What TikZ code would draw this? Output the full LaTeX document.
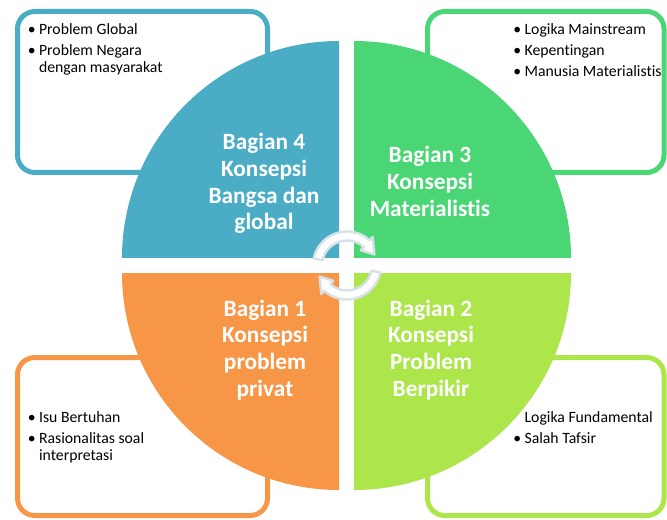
\documentclass[tikz,border=0pt]{standalone}
\usepackage{fontspec}
\setmainfont{Carlito}[Ligatures=NoCommon]
\usetikzlibrary{calc}

\definecolor{bluefour}{RGB}{75,172,198}
\definecolor{greenthree}{RGB}{74,214,116}
\definecolor{limetwo}{RGB}{172,230,75}
\definecolor{orangeone}{RGB}{247,150,70}
\definecolor{arrowline}{RGB}{214,226,234}

\tikzstyle{listbox} = [rounded corners=13pt, line width=3.75pt]
\tikzstyle{quadtext} = [text=white, inner sep=0pt, anchor=base, font=\bfseries\fontsize{17.5}{20}\selectfont]
\tikzstyle{listtext} = [text=black, inner sep=0pt, anchor=base west, font=\fontsize{11.8}{12.75}\selectfont]
\tikzstyle{turn} = [fill=white, draw=arrowline, line width=1.8pt, line join=round]

\newcommand{\blt}{\makebox[8.5pt][l]{\textbullet}}

\begin{document}
\begin{tikzpicture}[x=0.75pt, y=-0.75pt]
    \useasboundingbox (0,0) rectangle (667,520);

    % boxes behind the circle
    \draw [listbox, draw=bluefour] (17.5,11.5) rectangle (267.5,172.5);
    \draw [listbox, draw=greenthree] (427.5,11.5) rectangle (664,172.5);
    \draw [listbox, draw=orangeone] (17.5,357.5) rectangle (267.5,515.5);
    \draw [listbox, draw=limetwo] (427.5,357.5) rectangle (664,515.5);

    % four quarters
    \fill [bluefour] (339,258) -- ++(-217,0) arc[start angle=180, end angle=270, radius=217] -- cycle;
    \fill [greenthree] (354,258) -- ++(0,-217) arc[start angle=270, end angle=360, radius=217] -- cycle;
    \fill [orangeone] (339,273) -- ++(-217,0) arc[start angle=180, end angle=90, radius=217] -- cycle;
    \fill [limetwo] (354,273) -- ++(217,0) arc[start angle=0, end angle=90, radius=217] -- cycle;

    % turning arrows in the middle
    \coordinate (mid) at (347,265.5);
    \draw [turn] ($(mid)+(-168:34)$) arc[start angle=-168, end angle=-48, radius=34]
        -- ($(mid)+(-48:38.5)$) -- ($(mid)+(-22:29.5)$) -- ($(mid)+(-48:20.5)$)
        -- ($(mid)+(-48:25)$) arc[start angle=-48, end angle=-168, radius=25] -- cycle;
    \draw [turn] ($(mid)+(12:34)$) arc[start angle=12, end angle=132, radius=34]
        -- ($(mid)+(132:38.5)$) -- ($(mid)+(158:29.5)$) -- ($(mid)+(132:20.5)$)
        -- ($(mid)+(132:25)$) arc[start angle=132, end angle=12, radius=25] -- cycle;

    \node (part4) [quadtext] at (264,150) {\begin{tabular}[t]{@{}c@{}}Bagian 4\\Konsepsi\\Bangsa dan\\global\end{tabular}};
    \node (part3) [quadtext] at (430,163) {\begin{tabular}[t]{@{}c@{}}Bagian 3\\Konsepsi\\Materialistis\end{tabular}};
    \node (part1) [quadtext] at (265,316) {\begin{tabular}[t]{@{}c@{}}Bagian 1\\Konsepsi\\problem\\privat\end{tabular}};
    \node (part2) [quadtext] at (431,316) {\begin{tabular}[t]{@{}c@{}}Bagian 2\\Konsepsi\\Problem\\Berpikir\end{tabular}};

    \node (list4) [listtext] at (27.5,35) {\begin{tabular}[t]{@{}l@{}l@{}}
        \blt & Problem Global\\[3pt]
        \blt & Problem Negara\\
             & dengan masyarakat\end{tabular}};
    \node (list3) [listtext] at (513,35) {\begin{tabular}[t]{@{}l@{}l@{}}
        \blt & Logika Mainstream\\[3pt]
        \blt & Kepentingan\\[3pt]
        \blt & Manusia Materialistis\end{tabular}};
    \node (list1) [listtext] at (27.5,422) {\begin{tabular}[t]{@{}l@{}l@{}}
        \blt & Isu Bertuhan\\[3pt]
        \blt & Rasionalitas soal\\
             & interpretasi\end{tabular}};
    \node (list2) [listtext] at (513,422) {\begin{tabular}[t]{@{}l@{}l@{}}
             & Logika Fundamental\\[3pt]
        \blt & Salah Tafsir\end{tabular}};
\end{tikzpicture}
\end{document}
